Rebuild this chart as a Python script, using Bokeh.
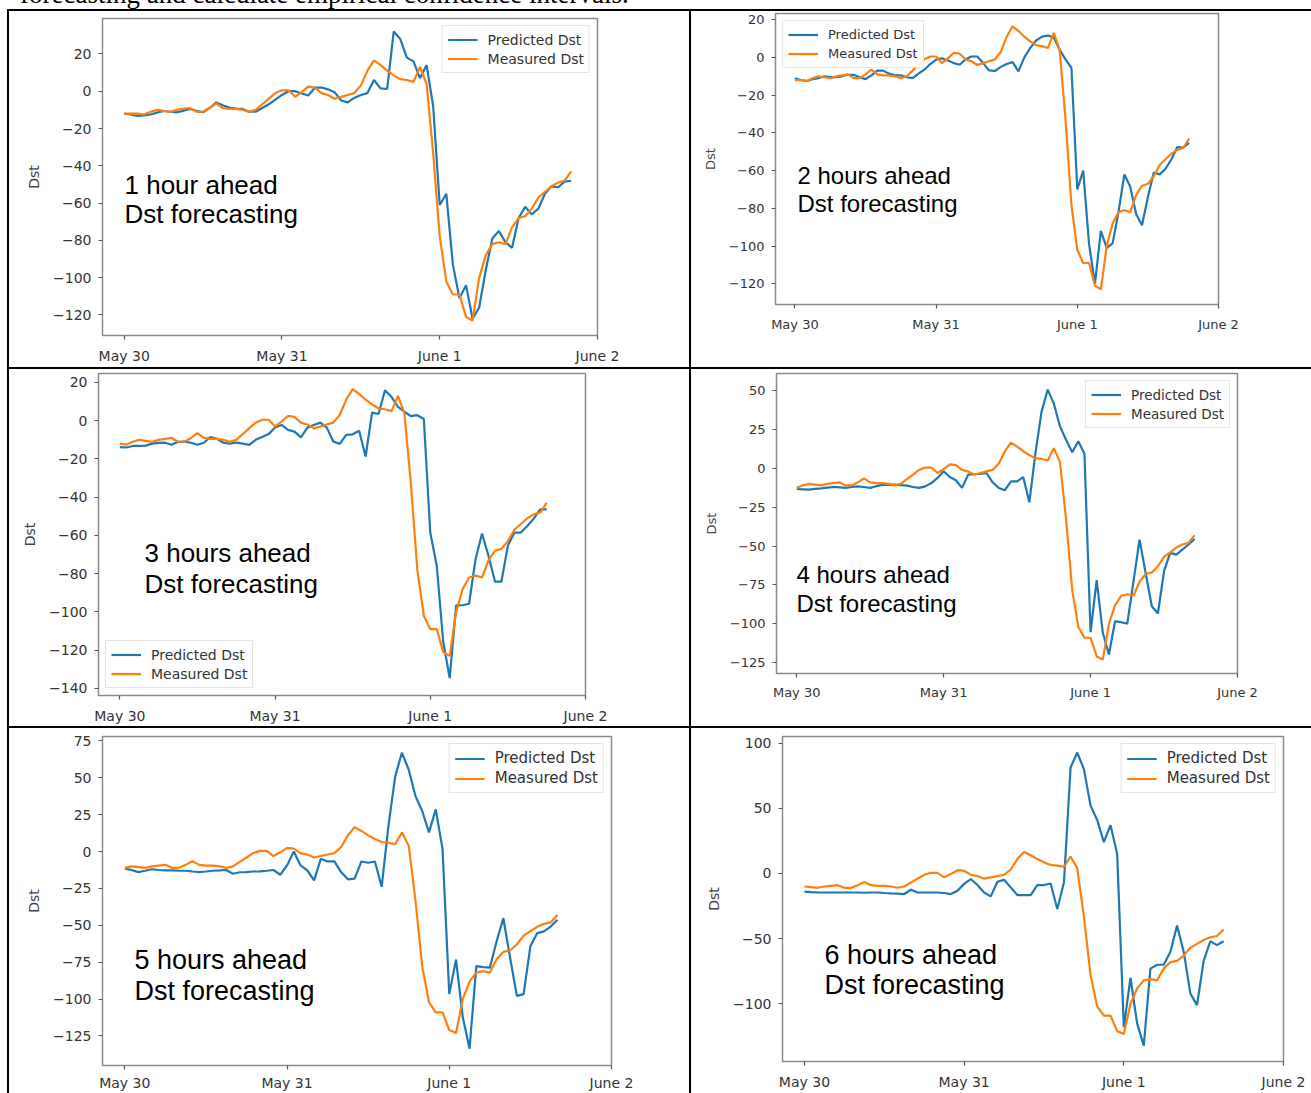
from bokeh.plotting import figure
from bokeh.models import FixedTicker, Label, Div
from bokeh.embed import file_html
from bokeh.resources import INLINE

# ---------------- data ----------------
day_ticks = [0, 24, 48, 72]
day_labels = ["May 30", "May 31", "June 1", "June 2"]

# measured Dst, hourly from May 30 00:00
measured = [-12, -12, -12, -12.5, -11, -10, -10.5, -11, -10, -9.5,
            -9, -11, -11, -9, -6.5, -9, -9.5, -9.5, -10, -11,
            -10, -7, -4, -1, 0.5, 0.5, -3, -0.5, 2.5, 2,
            -1, -2, -4, -3, -2, -1, 3, 11, 16.5, 14,
            11, 8.5, 6.5, 6, 5, 13, 4, -33, -78, -102,
            -109, -109, -121, -123, -100, -88, -82, -81, -82, -73,
            -68, -67, -63, -57, -54, -51, -49, -48, -43]

pred_1h = [-12, -12.5, -13.2, -13, -12.5, -11.5, -10.6, -11, -11.3, -10.5,
           -9.5, -10.5, -11.3, -9, -6, -7.5, -8.8, -9.3, -9.5, -11,
           -11, -9, -7, -4.5, -2, 0, 0, -1.2, -2.3, 1.9,
           2, 1, -0.5, -5, -6, -3.6, -2, -1, 6, 1.5,
           1.2, 32, 28, 18, 16, 7, 14, -8, -61, -55,
           -93, -111, -104, -122, -116, -96, -79, -75, -81, -84,
           -68, -62, -66, -63, -55, -51, -51.5, -48.5, -48]

pred_2h = [-11, -12, -12.5, -11.5, -11, -10, -10.4, -10.4, -10, -9.2,
           -9.2, -10.5, -11.5, -9.5, -7, -7, -8.6, -9.5, -9.5, -10.5,
           -11, -8.6, -6.5, -3.5, -1.2, -0.5, -1.6, -3, -3.9, -1,
           0.5, 0.5, -3, -6.9, -7.2, -5, -3.5, -2.5, -7.4, 0,
           5, 9, 11, 11.6, 10.5, 4, -1, -5.5, -70, -60,
           -99, -120, -92, -101, -98.6, -82, -62, -68.6, -83, -89,
           -74, -61, -62, -59, -54, -47.5, -47.8, -45.3]

pred_3h = [-13.8, -14, -13.2, -13.1, -13, -12, -11.6, -11.5, -12.6, -11,
           -10.9, -11.5, -12.6, -11.5, -8.5, -9.5, -11.5, -12, -11.4, -12,
           -12.6, -10, -8.5, -7, -3.5, -2.2, -4.8, -5.7, -8.7, -3.6,
           -2.2, -1, -3.6, -10.9, -12.1, -7.4, -7.1, -5.2, -18.7, 4.2,
           3.5, 15.9, 12.5, 7.3, 4.7, 2.4, 2.9, 0.9, -58.5, -75.8,
           -115.6, -134.6, -96.5, -96.5, -95.7, -72.3, -59, -70.6, -84.1, -84.1,
           -65.4, -58.5, -58.5, -55, -51.2, -46.4, -46.4]

pred_4h = [-13.3, -13.5, -13.7, -13.2, -12.9, -12.4, -12, -12.3, -12.6, -12,
           -11.6, -12, -12.6, -11.5, -10.7, -10.6, -10.5, -10.8, -11.1, -12,
           -12.6, -11.6, -9.5, -6.2, -1.9, -5.6, -7.7, -12.6, -4.1, -3.8,
           -3.6, -3, -9, -12.6, -14.1, -8.4, -8.4, -5.6, -21.9, 9.9,
           36.6, 50.6, 41.6, 27, 18.4, 10.3, 17.4, 9.4, -105.4, -72,
           -105.8, -119.8, -98.4, -99, -99.9, -73, -45.9, -67.3, -88.7, -93.4,
           -66.2, -54.4, -55.5, -52.3, -49, -45.4]

pred_5h = [-11.6, -12.5, -13.9, -13, -12, -12.5, -12.8, -12.8, -13, -13,
           -13.5, -13.9, -13.5, -13, -12.8, -12.5, -15, -14, -13.9, -13.5,
           -13.4, -13, -12.5, -15.7, -9.4, 0, -9.4, -12.8, -19.5, -4.9,
           -6.7, -6.7, -13.9, -18.8, -18.3, -6.7, -7.6, -6.7, -23.9, 17.4,
           51, 67.1, 55.5, 37.6, 27.5, 13, 28.6, 1.8, -96.6, -73.2,
           -112.3, -133.6, -77.6, -78.3, -78.7, -60.9, -45.2, -72, -97.8, -96.6,
           -64.2, -55.3, -54.1, -50.8, -46.3]

pred_6h = [-14, -14.3, -14.5, -14.6, -14.6, -14.6, -14.6, -14.6, -14.6, -14.8,
           -14.6, -14.6, -15, -15.3, -15.5, -15.8, -12.5, -14.6, -14.6, -14.6,
           -14.6, -15, -15.8, -13.3, -8, -4.3, -8.9, -14.6, -17.6, -6.4,
           -4.9, -10.7, -16.6, -16.6, -16.6, -8.9, -8.9, -7.7, -27.3, -6.9,
           81.2, 92.7, 80, 52, 41, 24, 37, 15, -118, -80,
           -115, -132, -73, -70, -70, -60, -40, -60, -92, -101,
           -67, -52, -55, -52]

predictions = [pred_1h, pred_2h, pred_3h, pred_4h, pred_5h, pred_6h]
panel_titles = [("1 hour ahead", "Dst forecasting"),
                ("2 hours ahead", "Dst forecasting"),
                ("3 hours ahead", "Dst forecasting"),
                ("4 hours ahead", "Dst forecasting"),
                ("5 hours ahead", "Dst forecasting"),
                ("6 hours ahead", "Dst forecasting")]
yticks_20 = [-120, -100, -80, -60, -40, -20, 0, 20]
yticks_3 = [-140, -120, -100, -80, -60, -40, -20, 0, 20]
yticks_4 = [-125, -100, -75, -50, -25, 0, 25, 50]
yticks_5 = [-125, -100, -75, -50, -25, 0, 25, 50, 75]
yticks_6 = [-100, -50, 0, 50, 100]
header_text = "forecasting and calculate empirical confidence intervals."

# ---------------- styling / layout ----------------
X0, X1 = -3.3, 72
BLUE, ORANGE = "#1f77b4", "#ff7f0e"

# cell = (page_left, page_top, width, height); frame = (left, top, width, height) inside cell
# text = (page_x, baseline1_y, baseline2_y)
cfgs = [
    dict(cell=(9, 11, 680, 356), frame=(93, 7, 495, 317), yr=(-131, 39), yt=yticks_20,
         fs=14, lfs=14, afs=26, text=(124, 184, 213), leg="top_right", xso=8),
    dict(cell=(691, 11, 620, 356), frame=(84, 2, 443, 291), yr=(-131, 23.3), yt=yticks_20,
         fs=13, lfs=13, afs=24, text=(797, 175, 203), leg="top_left", xso=8),
    dict(cell=(9, 369, 680, 357), frame=(89, 4, 487, 322), yr=(-143.7, 24.7), yt=yticks_3,
         fs=14, lfs=14, afs=26, text=(144, 552, 583), leg="bottom_left", xso=8),
    dict(cell=(691, 369, 620, 357), frame=(85, 4, 461, 300), yr=(-132, 61), yt=yticks_4,
         fs=13, lfs=13.5, afs=24, text=(796, 574, 603), leg="top_right", xso=7),
    dict(cell=(9, 728, 680, 365), frame=(93, 8, 509, 331), yr=(-145, 78), yt=yticks_5,
         fs=14, lfs=15, afs=27, text=(134, 961, 992), leg="top_right", xso=5),
    dict(cell=(691, 728, 620, 365), frame=(91, 8, 501, 325), yr=(-144.2, 105), yt=yticks_6,
         fs=14, lfs=15, afs=27, text=(824, 954, 984), leg="top_right", xso=8),
]


def minus(v):
    return str(v).replace("-", "\u2212")


def abs_style(left, top):
    return {"position": "absolute", "left": "%dpx" % left, "top": "%dpx" % top}


def make_panel(k, cfg):
    pred = predictions[k]
    meas = measured[k:]
    xs = list(range(len(pred)))
    cx, cy, W, H = cfg["cell"]
    L, T, FW, FH = cfg["frame"]
    R = W - L - FW
    B = H - T - FH
    y0, y1 = cfg["yr"]
    p = figure(width=W, height=H, x_range=(X0, X1), y_range=(y0, y1),
               output_backend="svg", toolbar_location=None,
               min_border_left=L, min_border_right=R,
               min_border_top=T, min_border_bottom=B,
               styles=abs_style(cx, cy))
    p.background_fill_color = "white"
    p.border_fill_color = "white"
    p.outline_line_color = "#8a8a8a"
    p.outline_line_width = 1.5
    p.xgrid.visible = False
    p.ygrid.visible = False

    p.line(xs, pred, line_color=BLUE, line_width=2.2, legend_label="Predicted Dst")
    p.line(xs, meas, line_color=ORANGE, line_width=2.2, legend_label="Measured Dst")

    p.xaxis.ticker = FixedTicker(ticks=day_ticks)
    p.xaxis.major_label_overrides = dict(zip(day_ticks, day_labels))
    p.yaxis.ticker = FixedTicker(ticks=cfg["yt"])
    p.yaxis.major_label_overrides = {t: minus(t) for t in cfg["yt"]}
    for ax in (p.xaxis, p.yaxis):
        ax.axis_line_color = None
        ax.major_tick_in = 0
        ax.major_tick_out = 4
        ax.major_tick_line_color = "#555555"
        ax.major_tick_line_width = 1.2
        ax.minor_tick_line_color = None
        ax.major_label_text_font = "DejaVu Sans"
        ax.major_label_text_font_size = "%dpx" % cfg["fs"]
        ax.major_label_text_color = "#333333"
    p.xaxis.major_label_standoff = cfg["xso"]
    p.yaxis.major_label_standoff = 7
    p.yaxis.axis_label = "Dst"
    p.yaxis.axis_label_text_font = "DejaVu Sans"
    p.yaxis.axis_label_text_font_size = "%dpx" % cfg["fs"]
    p.yaxis.axis_label_text_font_style = "normal"
    p.yaxis.axis_label_text_color = "#444444"
    p.yaxis.axis_label_standoff = 8

    lg = p.legend[0]
    lg.location = cfg["leg"]
    lg.margin = 7
    lg.padding = 5
    lg.spacing = 2
    lg.label_height = 17
    lg.glyph_height = 17
    lg.glyph_width = 30
    lg.label_standoff = 10
    lg.label_text_font = "DejaVu Sans"
    lg.label_text_font_size = "%spx" % cfg["lfs"]
    lg.label_text_color = "#333333"
    lg.border_line_color = "#cccccc"
    lg.border_line_width = 1
    lg.background_fill_alpha = 0.85

    tx, ty1, ty2 = cfg["text"]
    fl, ft = cx + L, cy + T

    def to_data(px, py):
        dx = X0 + (px - fl) / FW * (X1 - X0)
        dy = y1 - (py - ft) / FH * (y1 - y0)
        return dx, dy

    for line_text, py in zip(panel_titles[k], (ty1, ty2)):
        dx, dy = to_data(tx, py)
        p.add_layout(Label(x=dx, y=dy, text=line_text, text_font="Liberation Sans",
                           text_font_size="%dpx" % cfg["afs"], text_color="black",
                           text_baseline="alphabetic", text_align="left"))
    return p


roots = [make_panel(k, cfgs[k]) for k in range(6)]

header = Div(
    text=('<div style="white-space:nowrap; font-family:\'Liberation Serif\',\'Times New Roman\',serif; '
          'font-size:27px; line-height:31px; color:black;">' + header_text + '</div>'),
    width=720, height=31, margin=0, styles=abs_style(20, -21))
roots.insert(0, header)


def bar(left, top, w, h):
    st = abs_style(left, top)
    st["background-color"] = "black"
    return Div(text="", width=w, height=h, margin=0, styles=st)


# table rules
roots += [
    bar(8, 9, 1303, 2),      # top rule
    bar(7, 9, 2, 1084),      # left rule
    bar(689, 9, 2, 1084),    # middle rule
    bar(8, 367, 1303, 2),    # row rule 1
    bar(8, 726, 1303, 2),    # row rule 2
]

open("out.html", "w").write(file_html(roots, INLINE))
